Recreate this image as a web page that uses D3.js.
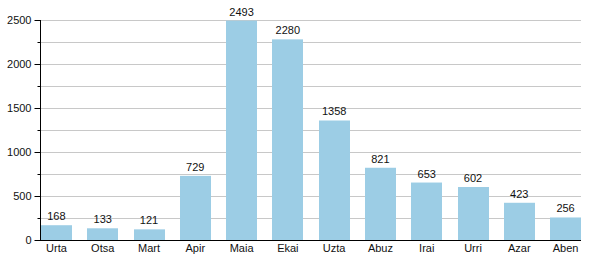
<!DOCTYPE html>
<html>
<head>
<meta charset="utf-8">
<script src="https://cdn.jsdelivr.net/npm/d3@7"></script>
<style>
  body { margin: 0; background: #fff; }
  text { font-family: "Liberation Sans", Arial, sans-serif; font-size: 11px; fill: #111; }
</style>
</head>
<body>
<svg id="chart" width="600" height="280"></svg>
<script>
var months = ['Urta', 'Otsa', 'Mart', 'Apir', 'Maia', 'Ekai', 'Uzta', 'Abuz', 'Irai', 'Urri', 'Azar', 'Aben']
var counts = [168, 133, 121, 729, 2493, 2280, 1358, 821, 653, 602, 423, 256]
var majorTicks = [0, 500, 1000, 1500, 2000, 2500]
var minorTicks = [250, 750, 1250, 1750, 2250]

var plotLeft = 41, plotRight = 581, plotTop = 20, plotBottom = 240
var svg = d3.select('#chart')

var x = d3.scaleBand()
  .domain(months)
  .range([plotLeft, plotRight])
  .paddingInner(0.333)
  .paddingOuter(0)
  .align(0)

var y = d3.scaleLinear()
  .domain([0, 2500])
  .range([plotBottom, plotTop])

// gridlines
svg.append('g')
  .selectAll('line')
  .data(majorTicks.concat(minorTicks).filter(function (d) { return d > 0 }))
  .join('line')
  .attr('x1', plotLeft)
  .attr('x2', plotRight)
  .attr('y1', function (d) { return Math.round(y(d)) + 0.5 })
  .attr('y2', function (d) { return Math.round(y(d)) + 0.5 })
  .attr('stroke', '#c8c8c8')

// bars
svg.append('g')
  .selectAll('rect')
  .data(counts)
  .join('rect')
  .attr('x', function (d, i) { return Math.round(x(months[i])) })
  .attr('width', Math.round(x.bandwidth()))
  .attr('y', function (d) { return y(d) })
  .attr('height', function (d) { return plotBottom - y(d) })
  .attr('fill', '#9ccde5')

// value labels
svg.append('g')
  .selectAll('text')
  .data(counts)
  .join('text')
  .attr('x', function (d, i) { return x(months[i]) + x.bandwidth() / 2 })
  .attr('y', function (d) { return y(d) - 5 })
  .attr('text-anchor', 'middle')
  .text(function (d) { return d })

// y axis
var yAxis = svg.append('g')
  .attr('transform', 'translate(' + (plotLeft - 0.5) + ',0)')
  .call(d3.axisLeft(y).tickValues(majorTicks).tickSize(6).tickPadding(3).tickFormat(d3.format('d')))
yAxis.select('.domain').attr('d', 'M0,' + plotTop + 'V' + plotBottom)
yAxis.selectAll('text').style('font-size', '11px')
svg.append('g')
  .attr('transform', 'translate(' + (plotLeft - 0.5) + ',0)')
  .call(d3.axisLeft(y).tickValues(minorTicks).tickSize(3).tickFormat(''))
  .select('.domain').remove()

// x axis
var xAxis = svg.append('g')
  .attr('transform', 'translate(0,' + (plotBottom + 0.5) + ')')
  .call(d3.axisBottom(x).tickSize(0).tickPadding(4))
xAxis.select('.domain').attr('d', 'M' + (plotLeft - 6) + ',0H' + plotRight)
xAxis.selectAll('text').style('font-size', '11px')
svg.selectAll('.domain').attr('stroke', '#000')
</script>
</body>
</html>
